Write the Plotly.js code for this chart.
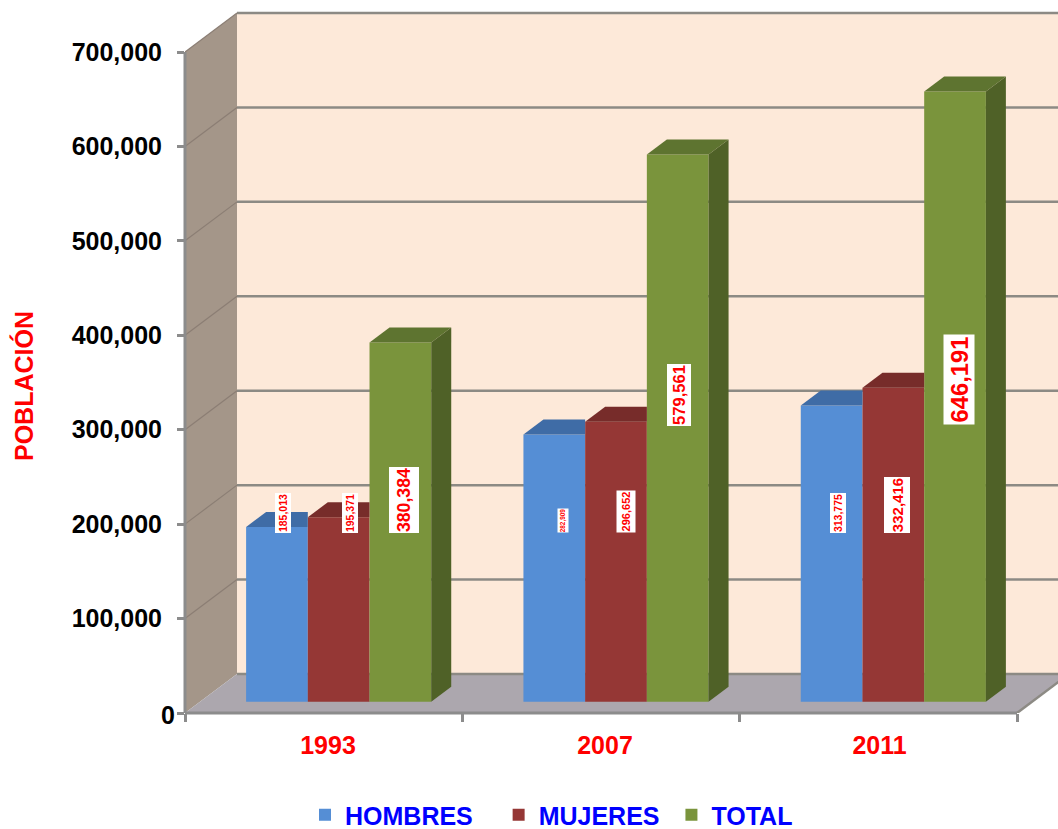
<!DOCTYPE html>
<html>
<head>
<meta charset="utf-8">
<script src="https://cdn.plot.ly/plotly-3.0.1.min.js"></script>
<style>html,body{margin:0;padding:0;background:#fff}#chart{width:1058px;height:829px}</style>
</head>
<body>
<div id="chart"></div>
<script>
// ---- data ----
const categories = ['1993', '2007', '2011'];
const hombres = [185013, 282909, 313775];
const mujeres = [195371, 296652, 332416];
const total   = [380384, 579561, 646191];
const seriesNames = ['HOMBRES\u00A0\u00A0\u00A0', 'MUJERES\u00A0', 'TOTAL'];
const yTicks = [0, 100000, 200000, 300000, 400000, 500000, 600000, 700000];

// ---- styles ----
const frontColors = ['#558ED5', '#953735', '#7A943C'];
const topColors   = ['#3F6CA6', '#772C2A', '#5E7430'];
const sideColor   = '#4F6127';
const wallBack = '#FDE9D9', wallSide = '#A49689', floorCol = '#ACA7AE';
const gridCol = '#8C8A84', sideGrid = '#8B7E74', axisCol = '#8C8C8C';
const FONT = '"Liberation Sans", Arial, sans-serif';

// label placement (pixel centre of the rotated box, its lower end, font size, box length and thickness)
const labelCx = [[283, 350, 404], [562.5, 625.5, 679], [838, 897, 958.5]];
const labelBottom = [[533, 533, 533], [533, 533, 426], [533, 533, 425]];
const labelSize = [[10.5, 10.5, 17.7], [6.4, 11, 16.6], [10.5, 15, 23.8]];
const labelLen = [[40, 40, 66], [24, 42, 62], [40, 56, 90]];
const labelThick = [[16, 16, 30], [11, 19, 24], [16, 26, 31]];

// ---- geometry: oblique projection, depth in screen px ----
const L = 185, B = 713, T0 = 52;            // axis origin and 700,000 tick
const catW = (1017 - 185) / 3;              // px per category
const k = (B - T0) / 700000;                // px per unit
const W = 1058, H = 829;
const slope = 0.75;
const wallD = 52, barD0 = 15, barDepth = 20;
const X = (x, d) => x + d / catW;
const Y = (v, d) => v + d * slope / k;
const pxX = p => (p - L) / catW;
const pxY = p => (B - p) / k;

const barW = 0.2225;
const groupCenter = i => X(i + 0.5, barD0);
const series = [hombres, mujeres, total];
const barLeft = (i, s) => groupCenter(i) + (s - 1.5) * barW;

const traces = [];
series.forEach((vals, s) => {
  traces.push({
    type: 'bar', name: seriesNames[s],
    x: categories.map((_, i) => groupCenter(i)),
    y: vals, base: vals.map(() => Y(0, barD0)),
    marker: {color: frontColors[s], line: {width: 0}},
    hoverinfo: 'y'
  });
});
const poly = (xs, ys, color) => ({
  type: 'scatter', mode: 'lines', x: xs, y: ys, fill: 'toself', fillcolor: color,
  line: {width: 0, color: color}, showlegend: false, hoverinfo: 'skip'
});
series.forEach((vals, s) => {
  vals.forEach((v, i) => {
    const x0 = barLeft(i, s), x1 = x0 + barW, y0 = Y(v, barD0), y1 = Y(v, barD0 + barDepth);
    const bx0 = x0 + barDepth / catW, bx1 = x1 + barDepth / catW;
    if (s < 2) { // the taller neighbour hides what lies beyond its front face
      traces.push(poly([x0, x1, x1, bx0, x0], [y0, y0, y1, y1, y0], topColors[s]));
    } else {
      traces.push(poly([x0, x1, bx1, bx0, x0], [y0, y0, y1, y1, y0], topColors[s]));
      const b0 = Y(0, barD0), b1 = Y(0, barD0 + barDepth);
      traces.push(poly([x1, bx1, bx1, x1, x1], [b0, b1, y1, y0, b0], sideColor));
    }
  });
});

const path = pts => 'M' + pts.map(p => p[0] + ' ' + p[1]).join('L') + 'Z';
const line = (x0, y0, x1, y1, color, width) => ({type: 'line', layer: 'below', xref: 'x', yref: 'y',
  x0, y0, x1, y1, line: {color, width}});
const fillShape = (pts, color) => ({type: 'path', layer: 'below', xref: 'x', yref: 'y',
  path: path(pts), fillcolor: color, line: {width: 0}});
const shapes = [
  fillShape([[X(0, wallD), Y(0, wallD)], [X(3, wallD), Y(0, wallD)], [X(3, wallD), Y(700000, wallD)], [X(0, wallD), Y(700000, wallD)]], wallBack),
  fillShape([[0, 0], [X(0, wallD), Y(0, wallD)], [X(0, wallD), Y(700000, wallD)], [0, 700000]], wallSide),
  fillShape([[0, 0], [X(0, wallD), Y(0, wallD)], [X(3, wallD), Y(0, wallD)], [3, 0]], floorCol)
];
yTicks.forEach(v => {
  shapes.push(line(X(0, wallD), Y(v, wallD), X(3, wallD), Y(v, wallD), gridCol, 2.5));
  if (v > 0) shapes.push(line(0, v, X(0, wallD), Y(v, wallD), sideGrid, 1.2));
});
shapes.push(line(3, 0, X(3, wallD), Y(0, wallD), gridCol, 2.5));
// axis lines lie on the plot edge: a paper reference keeps them from being clipped there
shapes.push({type: 'line', layer: 'above', xref: 'paper', yref: 'y', x0: 0, x1: 0, y0: 0, y1: 700000, line: {color: axisCol, width: 3}});
shapes.push({type: 'line', layer: 'above', xref: 'x', yref: 'paper', x0: 0, x1: 3, y0: 0, y1: 0, line: {color: axisCol, width: 3}});

const annotations = [];
categories.forEach((c, i) => {
  series.forEach((vals, s) => {
    annotations.push({
      xref: 'x', yref: 'y', x: pxX(labelCx[i][s]), y: pxY(labelBottom[i][s]),
      text: vals[i].toLocaleString('en-US'), textangle: -90, showarrow: false,
      width: labelLen[i][s], height: labelThick[i][s], align: 'center', valign: 'middle',
      xanchor: 'center', yanchor: 'bottom', bgcolor: '#FFFFFF', borderpad: 0, borderwidth: 0,
      font: {family: FONT, size: labelSize[i][s], color: '#FF0000', weight: 700}
    });
  });
});
annotations.push({
  xref: 'paper', yref: 'paper', x: (23 - L) / (W - L), y: (B - 386) / B, text: 'POBLACIÓN',
  textangle: -90, showarrow: false, xanchor: 'center', yanchor: 'middle',
  font: {family: FONT, size: 25, color: '#FF0000', weight: 700}
});
// the zero label stands closer to the axis than the other tick labels
annotations.push({
  xref: 'paper', yref: 'paper', x: (176 - L) / (W - L), y: (B - 715) / B, text: '0', showarrow: false,
  xanchor: 'right', yanchor: 'middle', borderpad: 0,
  font: {family: FONT, size: 25, color: '#000000', weight: 700}
});

const layout = {
  width: W, height: H,
  margin: {l: L, r: 0, t: 0, b: H - B, pad: 0, autoexpand: false},
  paper_bgcolor: '#FFFFFF', plot_bgcolor: '#FFFFFF',
  font: {family: FONT},
  barmode: 'group', bargap: 1 - 3 * barW, bargroupgap: 0,
  showlegend: true,
  legend: {orientation: 'h', x: (305 - L) / (W - L), xanchor: 'left', y: (B - 792) / B, yanchor: 'top',
    traceorder: 'normal', font: {family: FONT, size: 25, color: '#0000FF', weight: 700}, bgcolor: 'rgba(0,0,0,0)'},
  xaxis: {
    type: 'linear', range: [0, pxX(W)], showgrid: false, zeroline: false, showline: false,
    tickmode: 'array', tickvals: [pxX(328), pxX(605), pxX(879.5)], ticktext: categories, ticks: '',
    tickfont: {family: FONT, size: 25, color: '#FF0000', weight: 700}, ticklabelstandoff: 15,
    minor: {tickmode: 'array', tickvals: [0, 1, 2, 3], ticks: 'outside', ticklen: 8, tickwidth: 3, tickcolor: axisCol, showgrid: false}
  },
  yaxis: {
    type: 'linear', range: [0, pxY(0)], showgrid: false, zeroline: false, showline: false,
    tickmode: 'array', tickvals: yTicks, ticktext: yTicks.map(v => v === 0 ? '' : v.toLocaleString('en-US')),
    ticks: 'outside', ticklen: 7, tickwidth: 3, tickcolor: axisCol, ticklabelstandoff: 10,
    tickfont: {family: FONT, size: 25, color: '#000000', weight: 700}
  },
  shapes, annotations
};
Plotly.newPlot('chart', traces, layout, {displayModeBar: false, responsive: false});
</script>
</body>
</html>
